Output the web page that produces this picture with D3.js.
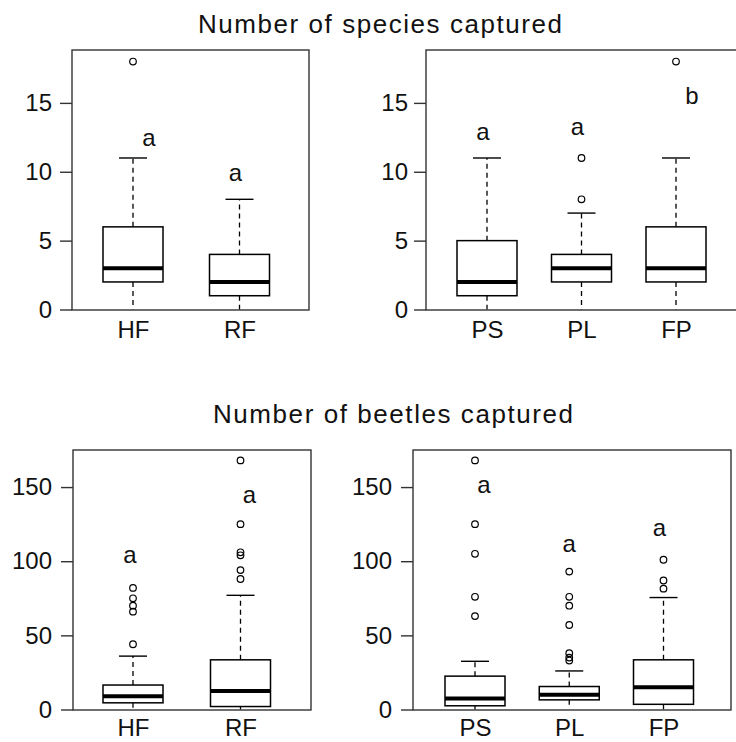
<!DOCTYPE html>
<html>
<head>
<meta charset="utf-8">
<script src="https://cdn.jsdelivr.net/npm/d3@7"></script>
<style>
  body { margin: 0; background: #fff; }
  svg { display: block; font-family: "Liberation Sans", Arial, sans-serif; }
</style>
</head>
<body>
<svg id="chart" width="736" height="742"></svg>
<script>
// species, by habitat
const spHab = ["HF", "RF"];
const spHabLow = [0, 0];
const spHabQ1 = [2, 1];
const spHabMed = [3, 2];
const spHabQ3 = [6, 4];
const spHabHigh = [11, 8];
const spHabOut = [[18], []];
const spHabLetter = ["a", "a"];
const spHabLetterY = [11.9, 9.3];

// species, by type
const spType = ["PS", "PL", "FP"];
const spTypeLow = [0, 0, 0];
const spTypeQ1 = [1, 2, 2];
const spTypeMed = [2, 3, 3];
const spTypeQ3 = [5, 4, 6];
const spTypeHigh = [11, 7, 11];
const spTypeOut = [[], [8, 11], [18]];
const spTypeLetter = ["a", "a", "b"];
const spTypeLetterY = [12.3, 12.7, 14.95];

// beetles, by habitat
const btHab = ["HF", "RF"];
const btHabLow = [0, 0];
const btHabQ1 = [4.5, 2];
const btHabMed = [9, 12.5];
const btHabQ3 = [16.5, 33.5];
const btHabHigh = [36, 77];
const btHabOut = [[44, 66, 70, 75, 82], [88, 94, 104, 106, 125, 168]];
const btHabLetter = ["a", "a"];
const btHabLetterY = [99, 139];

// beetles, by type
const btType = ["PS", "PL", "FP"];
const btTypeLow = [0, 1, 0];
const btTypeQ1 = [2.5, 6.5, 3.5];
const btTypeMed = [7.5, 10, 15];
const btTypeQ3 = [22.5, 15.5, 33.5];
const btTypeHigh = [32.5, 26, 75.5];
const btTypeOut = [[63, 76, 105, 125, 168], [33, 35, 38, 57, 70, 76, 93], [81.5, 87, 101]];
const btTypeLetter = ["a", "a", "a"];
const btTypeLetterY = [145.8, 106.4, 117.2];

const spTicks = [0, 5, 10, 15];
const btTicks = [0, 50, 100, 150];

const svg = d3.select("#chart");

function drawPanel(p) {
  const g = svg.append("g").attr("class", "panel");
  const x = d3.scalePoint().domain(p.cats).range([p.c1, p.cn]);
  const y = d3.scaleLinear().domain([0, p.ymax]).range([p.zero, p.top]);
  const rows = p.cats.map((c, i) => ({
    cat: c, low: p.low[i], q1: p.q1[i], med: p.med[i], q3: p.q3[i], high: p.high[i],
    out: p.out[i], letter: p.letter[i], ly: p.letterY[i], ldx: p.letterDx[i]
  }));
  const bw = 30, cw = 14;

  const box = g.selectAll("g.box").data(rows).join("g").attr("class", "box");

  box.append("line")
    .attr("x1", d => x(d.cat)).attr("x2", d => x(d.cat))
    .attr("y1", d => y(d.q3)).attr("y2", d => y(d.high))
    .attr("stroke", "#000").attr("stroke-width", 1.3).attr("stroke-dasharray", "5,4");
  box.append("line")
    .attr("x1", d => x(d.cat)).attr("x2", d => x(d.cat))
    .attr("y1", d => y(d.q1)).attr("y2", d => y(d.low))
    .attr("stroke", "#000").attr("stroke-width", 1.3).attr("stroke-dasharray", "5,4");
  box.append("line")
    .attr("x1", d => x(d.cat) - cw).attr("x2", d => x(d.cat) + cw)
    .attr("y1", d => y(d.high)).attr("y2", d => y(d.high))
    .attr("stroke", "#000").attr("stroke-width", 1.4);
  box.append("rect")
    .attr("x", d => x(d.cat) - bw).attr("width", bw * 2)
    .attr("y", d => y(d.q3)).attr("height", d => y(d.q1) - y(d.q3))
    .attr("fill", "#fff").attr("stroke", "#000").attr("stroke-width", 1.5);
  box.append("line")
    .attr("x1", d => x(d.cat) - bw).attr("x2", d => x(d.cat) + bw)
    .attr("y1", d => y(d.med)).attr("y2", d => y(d.med))
    .attr("stroke", "#000").attr("stroke-width", 4);

  box.selectAll("circle")
    .data(d => d.out.map(v => ({ cat: d.cat, v })))
    .join("circle")
    .attr("cx", d => x(d.cat)).attr("cy", d => y(d.v)).attr("r", 3.3)
    .attr("fill", "none").attr("stroke", "#000").attr("stroke-width", 1.2);

  box.append("text")
    .attr("x", d => x(d.cat) + d.ldx).attr("y", d => y(d.ly))
    .attr("text-anchor", "middle").attr("font-size", 24).attr("fill", "#111")
    .text(d => d.letter);

  // frame
  g.append("rect")
    .attr("x", p.left).attr("y", p.top)
    .attr("width", p.right - p.left).attr("height", p.bottom - p.top)
    .attr("fill", "none").attr("stroke", "#333").attr("stroke-width", 1.4);

  const ya = g.append("g")
    .attr("transform", `translate(${p.left},0)`)
    .call(d3.axisLeft(y).tickValues(p.ticks).tickSize(12).tickPadding(p.tickPad));
  ya.select(".domain").remove();
  ya.selectAll("line").attr("stroke", "#333").attr("stroke-width", 1.4);
  ya.selectAll("text").attr("font-size", 24).attr("fill", "#111")
    .attr("font-family", "Liberation Sans, Arial, sans-serif");

  const xa = g.append("g")
    .attr("transform", `translate(0,${p.bottom})`)
    .call(d3.axisBottom(x).tickSize(0).tickPadding(p.labPad));
  xa.select(".domain").remove();
  xa.selectAll("text").attr("font-size", 24).attr("fill", "#111")
    .attr("font-family", "Liberation Sans, Arial, sans-serif");
}

drawPanel({
  cats: spHab, low: spHabLow, q1: spHabQ1, med: spHabMed, q3: spHabQ3, high: spHabHigh,
  out: spHabOut, letter: spHabLetter, letterY: spHabLetterY, letterDx: [16, -4],
  left: 72, right: 309, top: 50, bottom: 310, zero: 309.5, ymax: 18.84,
  c1: 133, cn: 239.5, ticks: spTicks, tickPad: 8, labPad: 10.5
});
drawPanel({
  cats: spType, low: spTypeLow, q1: spTypeQ1, med: spTypeMed, q3: spTypeQ3, high: spTypeHigh,
  out: spTypeOut, letter: spTypeLetter, letterY: spTypeLetterY, letterDx: [-4, -4, 16],
  left: 426, right: 740, top: 50, bottom: 310, zero: 309.5, ymax: 18.84,
  c1: 487, cn: 676, ticks: spTicks, tickPad: 6, labPad: 10.5
});
drawPanel({
  cats: btHab, low: btHabLow, q1: btHabQ1, med: btHabMed, q3: btHabQ3, high: btHabHigh,
  out: btHabOut, letter: btHabLetter, letterY: btHabLetterY, letterDx: [-3, 9],
  left: 73, right: 311, top: 450, bottom: 710, zero: 709.5, ymax: 175,
  c1: 133, cn: 240.5, ticks: btTicks, tickPad: 9, labPad: 8.5
});
drawPanel({
  cats: btType, low: btTypeLow, q1: btTypeQ1, med: btTypeMed, q3: btTypeQ3, high: btTypeHigh,
  out: btTypeOut, letter: btTypeLetter, letterY: btTypeLetterY, letterDx: [9, 0, -4],
  left: 413, right: 731, top: 450, bottom: 710, zero: 709.5, ymax: 175,
  c1: 475, cn: 663.5, ticks: btTicks, tickPad: 9, labPad: 8.5
});

svg.append("text")
  .attr("x", 380).attr("y", 33)
  .attr("text-anchor", "middle").attr("font-size", 26).attr("fill", "#111")
  .attr("textLength", 364).attr("lengthAdjust", "spacing")
  .text("Number of species captured");
svg.append("text")
  .attr("x", 393).attr("y", 422.5)
  .attr("text-anchor", "middle").attr("font-size", 26).attr("fill", "#111")
  .attr("textLength", 360).attr("lengthAdjust", "spacing")
  .text("Number of beetles captured");
</script>
</body>
</html>
